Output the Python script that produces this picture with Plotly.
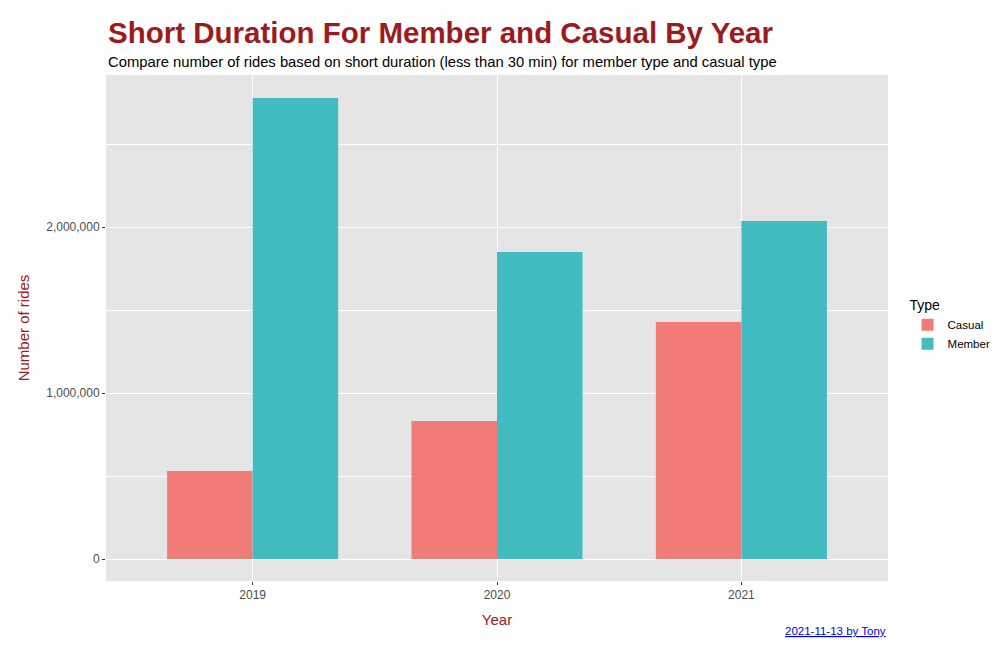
import plotly.graph_objects as go

# Short rides (< 30 min) per year
years = ["2019", "2020", "2021"]
casual_rides = [530000, 831000, 1428000]
member_rides = [2777000, 1849000, 2036000]

y_ticks = [0, 1000000, 2000000]
y_tick_labels = ["0", "1,000,000", "2,000,000"]

COLORS = {
    "casual": "#F17B77",
    "member": "#42BCC1",
    "panel": "#E5E5E5",
    "title": "#9B1B1F",
    "tick": "#4D4D4D",
}

FONT = "Liberation Sans, Arial, Helvetica, sans-serif"

fig = go.Figure()
fig.add_trace(
    go.Bar(
        x=years,
        y=casual_rides,
        name="Casual",
        marker={"color": COLORS["casual"], "line": {"width": 0}},
    )
)
fig.add_trace(
    go.Bar(
        x=years,
        y=member_rides,
        name="Member",
        marker={"color": COLORS["member"], "line": {"width": 0}},
    )
)

fig.update_layout(
    width=1000,
    height=661,
    barmode="group",
    bargap=0.3,
    bargroupgap=0,
    paper_bgcolor="white",
    plot_bgcolor=COLORS["panel"],
    font={"family": FONT, "color": "black", "size": 11},
    margin={"l": 98, "r": 116, "t": 67, "b": 88},
    legend={
        "title": {"text": "Type", "font": {"size": 14, "color": "black"}},
        "x": 1.025,
        "xanchor": "left",
        "y": 0.505,
        "yanchor": "middle",
        "font": {"size": 11.5},
        "itemsizing": "constant",
        "bgcolor": "rgba(0,0,0,0)",
    },
    annotations=[
        {
            "text": "<b>Short Duration For Member and Casual By Year</b>",
            "xref": "paper",
            "yref": "paper",
            "x": 0,
            "y": 1,
            "xanchor": "left",
            "yanchor": "bottom",
            "yshift": 24,
            "showarrow": False,
            "font": {"size": 29.5, "color": COLORS["title"]},
        },
        {
            "text": "Compare number of rides based on short duration (less than 30 min) for member type and casual type",
            "xref": "paper",
            "yref": "paper",
            "x": 0,
            "y": 1,
            "xanchor": "left",
            "yanchor": "bottom",
            "yshift": 3,
            "showarrow": False,
            "font": {"size": 14.8, "color": "black"},
        },
        {
            "text": "<u>2021-11-13 by Tony</u>",
            "xref": "paper",
            "yref": "paper",
            "x": 1,
            "y": 0,
            "xanchor": "right",
            "yanchor": "top",
            "yshift": -42,
            "showarrow": False,
            "font": {"size": 11.5, "color": "#0000EE"},
        },
    ],
)

fig.update_xaxes(
    type="category",
    range=[-0.6, 2.6],
    showgrid=True,
    gridcolor="white",
    gridwidth=1.3,
    ticks="outside",
    ticklen=3,
    tickcolor="#333333",
    tickfont={"size": 12, "color": COLORS["tick"]},
    title={"text": "Year", "font": {"size": 15, "color": COLORS["title"]}, "standoff": 13},
    zeroline=False,
)

fig.update_yaxes(
    range=[-132500, 2916000],
    tickvals=y_ticks,
    ticktext=y_tick_labels,
    showgrid=True,
    gridcolor="white",
    gridwidth=1.3,
    minor={"dtick": 500000, "tick0": 500000, "showgrid": True, "gridcolor": "white", "gridwidth": 0.6},
    ticks="outside",
    ticklen=3,
    tickcolor="#333333",
    tickfont={"size": 12, "color": COLORS["tick"]},
    title={"text": "Number of rides", "font": {"size": 15, "color": COLORS["title"]}, "standoff": 12},
    zeroline=False,
)

fig.write_html("out.html")
